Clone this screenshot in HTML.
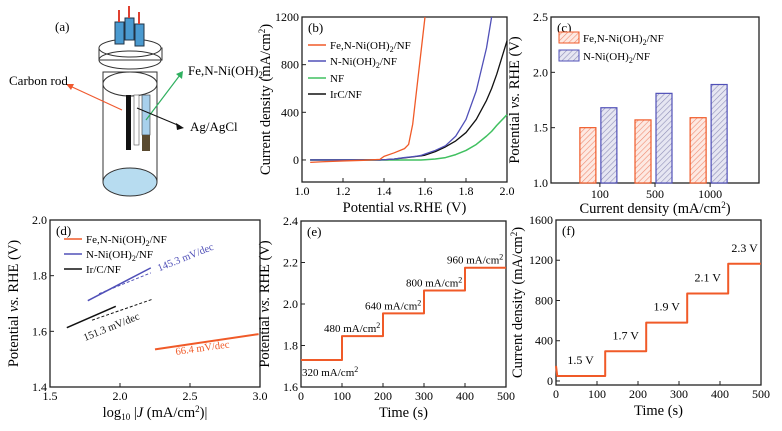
<!DOCTYPE html>
<html><head><meta charset="utf-8"><style>
body{margin:0;background:#fff;width:782px;height:426px;overflow:hidden}
svg{font-family:"Liberation Serif",serif}
</style></head><body>
<svg id="fig" width="782" height="426" viewBox="0 0 782 426">
<defs>
<pattern id="hatchO" width="4" height="4" patternUnits="userSpaceOnUse" patternTransform="rotate(45)"><rect width="4" height="4" fill="#fde9e2"/><line x1="0" y1="0" x2="0" y2="4" stroke="#f08a70" stroke-width="1.2"/></pattern>
<pattern id="hatchB" width="4" height="4" patternUnits="userSpaceOnUse" patternTransform="rotate(45)"><rect width="4" height="4" fill="#e6e6f2"/><line x1="0" y1="0" x2="0" y2="4" stroke="#8f8fb8" stroke-width="1.2"/></pattern>
</defs>
<g>
<text x="55" y="31" font-size="13">(a)</text>
<rect x="103" y="72" width="54" height="110" fill="#fff" stroke="#333" stroke-width="1"/>
<ellipse cx="130" cy="182" rx="27" ry="14" fill="#b7dcf0" stroke="#333"/>
<ellipse cx="130" cy="84" rx="27" ry="12" fill="#fff" stroke="#333"/>
<rect x="99" y="48" width="63" height="12" fill="#fff" stroke="#333"/>
<ellipse cx="130" cy="48" rx="31" ry="9" fill="#fff" stroke="#333"/>
<ellipse cx="130" cy="60" rx="31" ry="9" fill="none" stroke="#333"/>
<rect x="115" y="22" width="9" height="22" fill="#4a9ad0" stroke="#234"/>
<rect x="125" y="18" width="9" height="22" fill="#4a9ad0" stroke="#234"/>
<rect x="135" y="24" width="9" height="22" fill="#4a9ad0" stroke="#234"/>
<line x1="119" y1="10" x2="119" y2="22" stroke="#e04030" stroke-width="2"/>
<line x1="129" y1="6" x2="129" y2="18" stroke="#e04030" stroke-width="2"/>
<line x1="139" y1="12" x2="139" y2="24" stroke="#e04030" stroke-width="2"/>
<rect x="126" y="95" width="5" height="55" fill="#111"/>
<rect x="134" y="95" width="5" height="50" fill="#fff" stroke="#555" stroke-width=".6"/>
<rect x="142" y="95" width="8" height="40" fill="#a8d0ec" stroke="#333" stroke-width=".6"/>
<rect x="142" y="135" width="8" height="16" fill="#5a4a30"/>
<line x1="122" y1="110" x2="70" y2="86" stroke="#f05a30" stroke-width="1.2"/>
<polygon points="66,84 74,84 71,90" fill="#f05a30"/>
<line x1="146" y1="120" x2="180" y2="75" stroke="#30b060" stroke-width="1.2"/>
<polygon points="183,71 176,74 182,79" fill="#30b060"/>
<line x1="137" y1="108" x2="180" y2="126" stroke="#111" stroke-width="1"/>
<polygon points="184,128 176,123 177,130" fill="#111"/>
<text x="9" y="85" font-size="13">Carbon rod</text>
<text x="188" y="75" font-size="13">Fe,N-Ni(OH)<tspan font-size="9" dy="3">2</tspan></text>
<text x="190" y="131" font-size="13">Ag/AgCl</text>
</g>
</svg>
<script>
// ---------- data ----------
const bPot = [1.04,1.1,1.2,1.3,1.38,1.4,1.45,1.5,1.52,1.54,1.56,1.58,1.6,1.65,1.7,1.75,1.8,1.85,1.9,1.925,1.95,2.0];
const bFe  = [-20,-15,-8,-3,5,30,60,95,130,300,600,900,1200];
const bN   = [0,0,0,0,0,2,8,20,24,28,32,38,50,80,120,200,340,580,940,1200];
const bIr  = [0,0,0,0,0,2,8,18,22,26,30,34,40,70,110,160,230,340,500,600,720,1000];
const bNF  = [0,0,0,0,0,0,0,0,0,0,0,0,2,8,20,45,80,130,200,240,290,380];
const cCats = ['100','500','1000'];
const cFe = [1.50,1.57,1.59];
const cN  = [1.68,1.81,1.89];
const dFeX=[2.25,2.99], dFeY=[1.535,1.59];
const dNX=[1.77,2.22], dNY=[1.71,1.828];
const dNfitX=[1.85,2.22], dNfitY=[1.735,1.81];
const dIrX=[1.62,1.97], dIrY=[1.613,1.69];
const dIrfitX=[1.8,2.23], dIrfitY=[1.64,1.715];
const eT=[0,100,200,300,400,500];
const eV=[1.73,1.845,1.955,2.065,2.175];
const eLabels=['320','480','640','800','960'];
const fT=[0,120,220,320,420,500];
const fJ=[50,295,580,870,1165];
const fLabels=['1.5 V','1.7 V','1.9 V','2.1 V','2.3 V'];

const svg=document.getElementById('fig');
const NS='http://www.w3.org/2000/svg';
function el(tag,attrs,parent){const e=document.createElementNS(NS,tag);for(const k in attrs)e.setAttribute(k,attrs[k]);(parent||svg).appendChild(e);return e;}
function txt(x,y,s,size,anchor,parent){const t=el('text',{x:x,y:y,'font-size':size,'text-anchor':anchor||'start'},parent);t.textContent=s;return t;}

function axes(o){
  const g=el('g',{});
  
  
  const sx=v=>o.x0+(v-o.xmin)/(o.xmax-o.xmin)*(o.x1-o.x0);
  const sy=v=>o.y1-(v-o.ymin)/(o.ymax-o.ymin)*(o.y1-o.y0);
  el('rect',{x:o.x0,y:o.y0,width:o.x1-o.x0,height:o.y1-o.y0,fill:'none',stroke:'#222','stroke-width':1.3},g);
  (o.xt||[]).forEach((v,i)=>{const x=sx(v);el('line',{x1:x,y1:o.y1,x2:x,y2:o.y1-4,stroke:'#222'},g);
    const t=txt(x,o.y1+13,o.xtl?o.xtl[i]:String(v),12,'middle',g);});
  (o.yt||[]).forEach((v,i)=>{const y=sy(v);el('line',{x1:o.x0,y1:y,x2:o.x0+4,y2:y,stroke:'#222'},g);
    const t=txt(o.x0-3,y+4,o.ytl?o.ytl[i]:String(v),12,'end',g);});
  const xt=el('text',{x:(o.x0+o.x1)/2,y:o.y1+30,'font-size':14.5,'text-anchor':'middle'},g);xt.innerHTML=o.xlabel;
  
  const yx=o.x0-o.ylOff, yy=(o.y0+o.y1)/2;
  const yt=el('text',{x:yx,y:yy,'font-size':14.5,'text-anchor':'middle',transform:`rotate(-90 ${yx} ${yy})`},g);yt.innerHTML=o.ylabel;
  
  const pl=txt(o.x0+6,o.y0+15,o.panel,13,'start',g);
  return {g,sx,sy};
}
function poly(a,xs,ys,col,w,name,dash){
  const p=el('polyline',{points:xs.map((x,i)=>a.sx(x)+','+a.sy(ys[i])).join(' '),fill:'none',stroke:col,'stroke-width':w||1.5,'stroke-linejoin':'round'},a.g);
  if(dash)p.setAttribute('stroke-dasharray',dash);
  return p;
}
function legendLine(g,x,y,col,label,name){
  el('line',{x1:x,y1:y,x2:x+18,y2:y,stroke:col,'stroke-width':1.5},g);
  const t=el('text',{x:x+22,y:y+4,'font-size':11},g);t.innerHTML=label;
  
}
const ORG='#f05a28', BLU='#5050b8', GRN='#40c060', BLK='#111';
const sub2='<tspan font-size="8" dy="3">2</tspan><tspan dy="-3">';

// panel b
const b=axes({name:'panel-b-lsv',x0:302,x1:507,y0:17,y1:182,xmin:1.0,xmax:2.0,ymin:-185,ymax:1200,
  xt:[1.0,1.2,1.4,1.6,1.8,2.0],xtl:['1.0','1.2','1.4','1.6','1.8','2.0'],yt:[0,400,800,1200],
  xlabel:'Potential <tspan font-style="italic">vs.</tspan>RHE (V)',ylabel:'Current density (mA/cm<tspan font-size="9" dy="-5">2</tspan><tspan dy="5">)</tspan>',ylOff:32,panel:'(b)'});
poly(b,bPot.slice(0,bNF.length),bNF,GRN,1.5,'line-nf');
poly(b,bPot.slice(0,bIr.length),bIr,BLK,1.3,'line-irc');
poly(b,bPot.slice(0,bN.length),bN,BLU,1.3,'line-n-nioh2');
poly(b,bPot.slice(0,bFe.length),bFe,ORG,1.3,'line-fe-n-nioh2');
legendLine(b.g,308,45,ORG,'Fe,N-Ni(OH)'+sub2+'/NF</tspan>','legend-fe-n');
legendLine(b.g,308,61,BLU,'N-Ni(OH)'+sub2+'/NF</tspan>','legend-n');
legendLine(b.g,308,78,GRN,'NF','legend-nf');
legendLine(b.g,308,94,BLK,'IrC/NF','legend-irc');

// panel c
const c=axes({name:'panel-c-bars',x0:551,x1:759,y0:17,y1:183,xmin:0,xmax:1,ymin:1.0,ymax:2.5,
  xt:[],yt:[1.0,1.5,2.0,2.5],ytl:['1.0','1.5','2.0','2.5'],
  xlabel:'Current density (mA/cm<tspan font-size="9" dy="-5">2</tspan><tspan dy="5">)</tspan>',ylabel:'Potential <tspan font-style="italic">vs.</tspan> RHE (V)',ylOff:32,panel:'(c)'});
const catX=[0.235,0.5,0.765];
cCats.forEach((cat,i)=>{
  const cx=c.sx(catX[i]);
  const r1=el('rect',{x:cx-20,y:c.sy(cFe[i]),width:16,height:c.sy(1.0)-c.sy(cFe[i]),fill:'url(#hatchO)',stroke:ORG,'stroke-width':1.2},c.g);
  
  const r2=el('rect',{x:cx+1,y:c.sy(cN[i]),width:16,height:c.sy(1.0)-c.sy(cN[i]),fill:'url(#hatchB)',stroke:BLU,'stroke-width':1.2},c.g);
  
  el('line',{x1:cx,y1:c.sy(1.0),x2:cx,y2:c.sy(1.0)+4,stroke:'#222'},c.g);
  const t=txt(cx,c.sy(1.0)+15,cat,12,'middle',c.g);
});
[[ORG,'url(#hatchO)','Fe,N-Ni(OH)'+sub2+'/NF</tspan>',38],[BLU,'url(#hatchB)','N-Ni(OH)'+sub2+'/NF</tspan>',56]].forEach((L,i)=>{
  el('rect',{x:559,y:L[3]-6,width:20,height:11,fill:L[1],stroke:L[0]},c.g);
  const t=el('text',{x:583,y:L[3]+4,'font-size':11},c.g);t.innerHTML=L[2];
  
});

// panel d
const d=axes({name:'panel-d-tafel',x0:50,x1:260,y0:220,y1:387,xmin:1.5,xmax:3.0,ymin:1.4,ymax:2.0,
  xt:[1.5,2.0,2.5,3.0],xtl:['1.5','2.0','2.5','3.0'],yt:[1.4,1.6,1.8,2.0],ytl:['1.4','1.6','1.8','2.0'],
  xlabel:'log<tspan font-size="9" dy="3">10</tspan><tspan dy="-3"> |</tspan><tspan font-style="italic">J</tspan> (mA/cm<tspan font-size="9" dy="-5">2</tspan><tspan dy="5">)|</tspan>',ylabel:'Potential <tspan font-style="italic">vs.</tspan> RHE (V)',ylOff:32,panel:'(d)'});
poly(d,dNX,dNY,BLU,1.5,'tafel-n');
poly(d,dNfitX,dNfitY,BLU,1,'tafel-n-fit','3,2');
poly(d,dIrX,dIrY,BLK,1.5,'tafel-irc');
poly(d,dIrfitX,dIrfitY,BLK,1,'tafel-irc-fit','3,2');
poly(d,dFeX,dFeY,ORG,2,'tafel-fe-n');
legendLine(d.g,64,239,ORG,'Fe,N-Ni(OH)'+sub2+'/NF</tspan>','legend-fe-n');
legendLine(d.g,64,254,BLU,'N-Ni(OH)'+sub2+'/NF</tspan>','legend-n');
legendLine(d.g,64,269,BLK,'Ir/C/NF','legend-irc');
[[d.sx(2.28),d.sy(1.815),'145.3 mV/dec',BLU,-22],[d.sx(1.75),d.sy(1.565),'151.3 mV/dec',BLK,-22],[d.sx(2.4),d.sy(1.515),'66.4 mV/dec',ORG,-8]].forEach(s=>{
  const t=el('text',{x:s[0],y:s[1],'font-size':10.5,fill:s[3],transform:`rotate(${s[4]} ${s[0]} ${s[1]})`},d.g);t.textContent=s[2];
  
});

// panel e
const e=axes({name:'panel-e-chronopot',x0:301,x1:506,y0:221,y1:387,xmin:0,xmax:500,ymin:1.6,ymax:2.4,
  xt:[0,100,200,300,400,500],yt:[1.6,1.8,2.0,2.2,2.4],ytl:['1.6','1.8','2.0','2.2','2.4'],
  xlabel:'Time  (s)',ylabel:'Potential <tspan font-style="italic">vs.</tspan> RHE (V)',ylOff:32,panel:'(e)'});
{const xs=[],ys=[];eV.forEach((v,i)=>{xs.push(eT[i],eT[i+1]);ys.push(v,v);});poly(e,xs,ys,ORG,2,'step-potential');}
eLabels.forEach((l,i)=>{const x=i===0?e.sx(eT[0])+1:e.sx(eT[i])-18;const y=i===0?e.sy(eV[0])+16:e.sy(eV[i])-4;
  const t=el('text',{x:x,y:y,'font-size':11},e.g);t.innerHTML=l+' mA/cm<tspan font-size="8" dy="-4">2</tspan>';
  });

// panel f
const f=axes({name:'panel-f-chronoamp',x0:556,x1:761,y0:220,y1:385,xmin:0,xmax:500,ymin:-40,ymax:1600,
  xt:[0,100,200,300,400,500],yt:[0,400,800,1200,1600],
  xlabel:'Time  (s)',ylabel:'Current density (mA/cm<tspan font-size="9" dy="-5">2</tspan><tspan dy="5">)</tspan>',ylOff:34,panel:'(f)'});
{const xs=[0,3],ys=[150,fJ[0]];fJ.forEach((v,i)=>{xs.push(i===0?8:fT[i],fT[i+1]);ys.push(v,v);});poly(f,xs,ys,ORG,2,'step-current');}
fLabels.forEach((l,i)=>{const t=txt(f.sx((fT[i]+fT[i+1])/2),f.sy(fJ[i])-12,l,12,'middle',f.g);
  });
</script>
</body></html>
